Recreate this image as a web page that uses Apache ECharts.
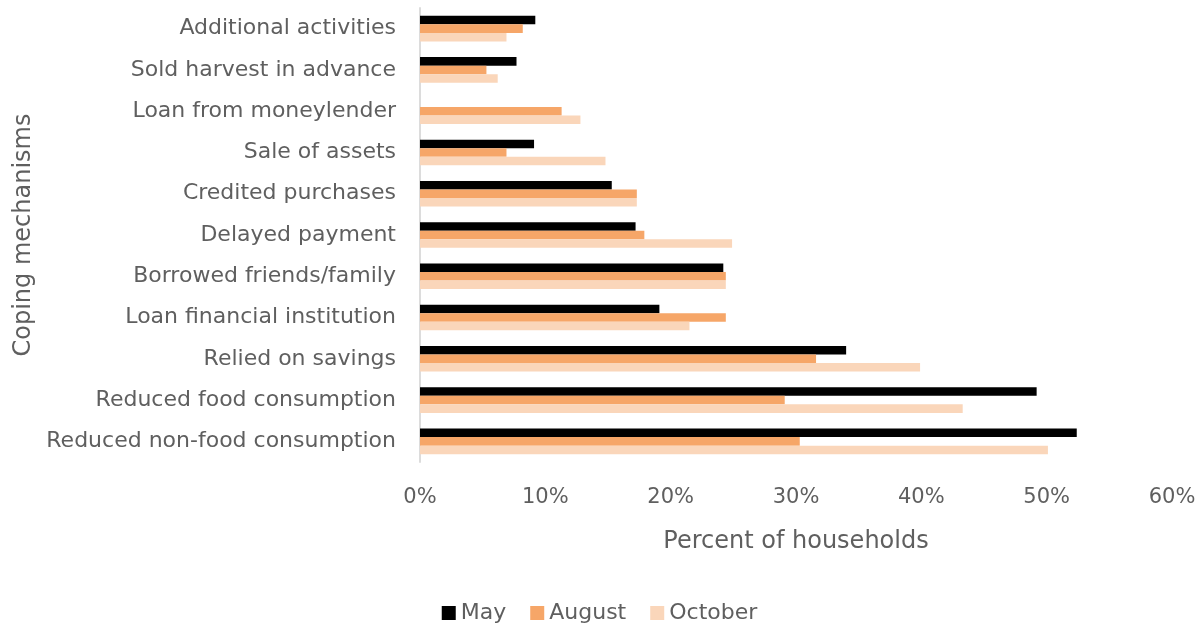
<!DOCTYPE html>
<html>
<head>
<meta charset="utf-8">
<script src="https://cdn.jsdelivr.net/npm/echarts@6/dist/echarts.min.js"></script>
<style>
  html, body { margin: 0; padding: 0; background: #fff; }
  #chart { width: 1199px; height: 626px; }
</style>
</head>
<body>
<div id="chart"></div>
<script>
// categories, bottom to top as the axis draws them
var categories = [
  'Reduced non-food consumption',
  'Reduced food consumption',
  'Relied on savings',
  'Loan financial institution',
  'Borrowed friends/family',
  'Delayed payment',
  'Credited purchases',
  'Sale of assets',
  'Loan from moneylender',
  'Sold harvest in advance',
  'Additional activities'
];
var may     = [52.4, 49.2, 34.0, 19.1, 24.2, 17.2, 15.3, 9.1, 0,    7.7, 9.2];
var august  = [30.3, 29.1, 31.6, 24.4, 24.4, 17.9, 17.3, 6.9, 11.3, 5.3, 8.2];
var october = [50.1, 43.3, 39.9, 21.5, 24.4, 24.9, 17.3, 14.8, 12.8, 6.2, 6.9];
var seriesNames = ['May', 'August', 'October'];

var textColor = '#5f5f5f';
var font = 'DejaVu Sans';

var chart = echarts.init(document.getElementById('chart'));

var option = {
  animation: false,
  color: ['#000000', '#F6A668', '#FAD6BA'],
  textStyle: { fontFamily: font, color: textColor },
  legend: {
    data: seriesNames,
    bottom: -3,
    left: 'center',
    icon: 'rect',
    itemWidth: 14,
    itemHeight: 14,
    itemGap: 24,
    textStyle: { fontSize: 22, color: textColor, fontFamily: font }
  },
  grid: {
    left: 420,
    right: 27,
    top: 8,
    bottom: 164
  },
  xAxis: {
    type: 'value',
    min: 0,
    max: 60,
    interval: 10,
    name: 'Percent of households',
    nameLocation: 'middle',
    nameGap: 68,
    nameTextStyle: { fontSize: 24, color: textColor, fontFamily: font },
    axisLine: { show: false },
    axisTick: { show: false },
    splitLine: { show: false },
    axisLabel: {
      formatter: '{value}%',
      fontSize: 21,
      color: textColor,
      margin: 25
    }
  },
  yAxis: {
    type: 'category',
    data: categories,
    name: 'Coping mechanisms',
    nameLocation: 'middle',
    nameGap: 377,
    nameRotate: 90,
    nameTextStyle: { fontSize: 24, color: textColor, fontFamily: font },
    axisLine: { show: true, lineStyle: { color: '#dcdcdc', width: 2 } },
    axisTick: { show: false },
    axisLabel: { fontSize: 22, color: textColor, margin: 24 }
  },
  series: [
    { name: 'May', type: 'bar', data: may, barGap: '0%', barCategoryGap: '38%' },
    { name: 'August', type: 'bar', data: august, barGap: '0%', barCategoryGap: '38%' },
    { name: 'October', type: 'bar', data: october, barGap: '0%', barCategoryGap: '38%' }
  ]
};

chart.setOption(option);
</script>
</body>
</html>
